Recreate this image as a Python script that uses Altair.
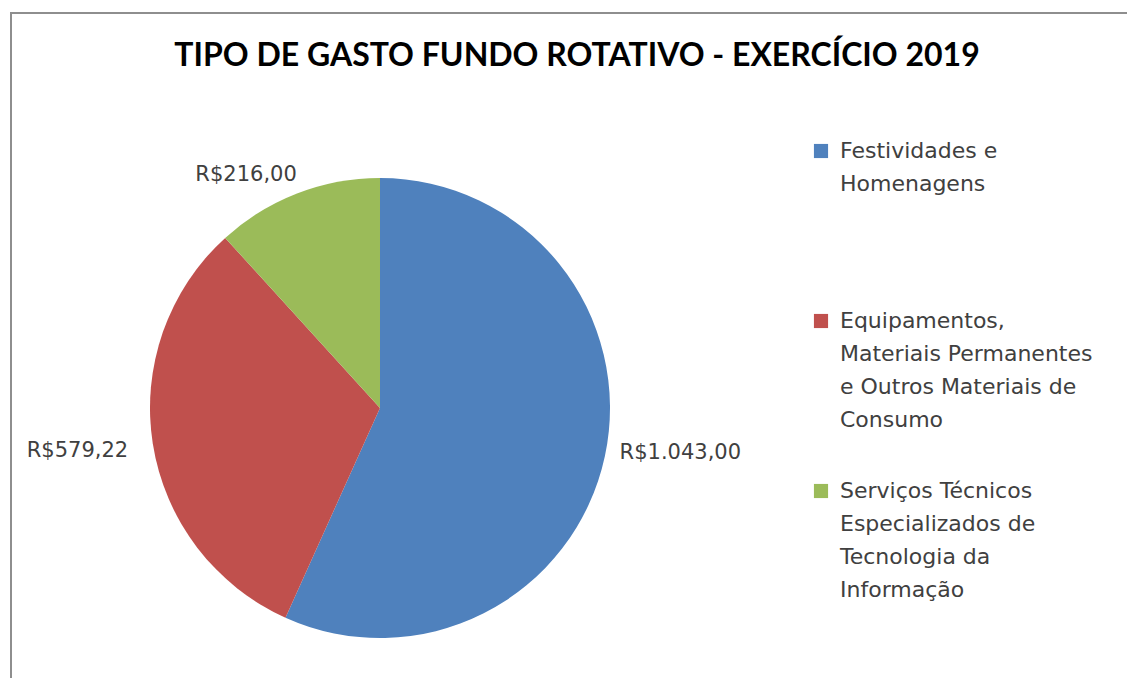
import altair as alt
import pandas as pd

# ---- data ----
categorias = [
    "Festividades e|Homenagens",
    "Equipamentos,|Materiais Permanentes|e Outros Materiais de|Consumo",
    "Serviços Técnicos|Especializados de|Tecnologia da|Informação",
]
valores = [1043.00, 579.22, 216.00]
rotulos = ["R$1.043,00", "R$579,22", "R$216,00"]
ordem = [1, 2, 3]
cores = ["#4F81BD", "#C0504D", "#9BBB59"]
titulo = "TIPO DE GASTO FUNDO ROTATIVO - EXERCÍCIO 2019"

df = pd.DataFrame({
    "categoria": categorias,
    "valor": valores,
    "rotulo": rotulos,
    "ordem": ordem,
})

FONT = "DejaVu Sans"
TFONT = "Lato"
FS = 21
LFS = 22
TXT = "#404040"

base = alt.Chart(df).encode(
    theta=alt.Theta("valor:Q", stack=True),
    order=alt.Order("ordem:Q"),
)

pie = base.mark_arc(outerRadius=230).encode(
    color=alt.Color(
        "categoria:N",
        scale=alt.Scale(domain=categorias, range=cores),
        legend=alt.Legend(
            title=None,
            orient="none",
            legendX=660,
            legendY=-38,
            labelExpr="split(datum.label + (length(split(datum.label, '|')) == 2 ? '| | ' : ''), '|')",
            symbolType="square",
            symbolSize=200,
            symbolStrokeWidth=0,
            labelFont=FONT,
            labelFontSize=LFS,
            labelColor=TXT,
            labelLimit=500,
            labelOffset=8,
            labelBaseline="alphabetic",
            rowPadding=49,
            padding=0,
        ),
    )
)


def rotulo(n, r, align, dx=0, dy=0):
    return base.mark_text(
        radius=r, align=align, baseline="middle", font=FONT, fontSize=FS,
        color=TXT, dx=dx, dy=dy,
    ).encode(
        text=alt.condition(alt.datum.ordem == n, "rotulo:N", alt.value(""))
    )


lbl1 = rotulo(1, 242, "left", dx=3, dy=-6)
lbl2 = rotulo(2, 255, "right", dy=3)
lbl3 = rotulo(3, 250, "right", dx=7)

frame_df = pd.DataFrame({"k": [0]})
borda_esq = alt.Chart(frame_df).mark_rule(color="#8E8E8E", strokeWidth=2).encode(
    x=alt.value(-139), y=alt.value(-165), y2=alt.value(700)
)
borda_top = alt.Chart(frame_df).mark_rule(color="#8E8E8E", strokeWidth=2).encode(
    x=alt.value(-140), x2=alt.value(1200), y=alt.value(-165)
)

chart = alt.layer(borda_esq, borda_top, pie, lbl1, lbl2, lbl3).properties(
    width=460,
    height=460,
    padding={"left": 142, "top": 170, "right": 517, "bottom": 40},
    autosize=alt.AutoSizeParams(type="none"),
    title=alt.Title(
        titulo,
        font=TFONT,
        fontSize=32,
        fontWeight="bold",
        color="#000000",
        anchor="middle",
        frame="group",
        dx=197,
        offset=-86,
        baseline="alphabetic",
    ),
).configure(
    style={"guide-label": {"lineHeight": 33, "dy": 7}},
    view=alt.ViewConfig(strokeWidth=0),
)

chart.save("out.html", embed_options={"renderer": "svg", "actions": False})
